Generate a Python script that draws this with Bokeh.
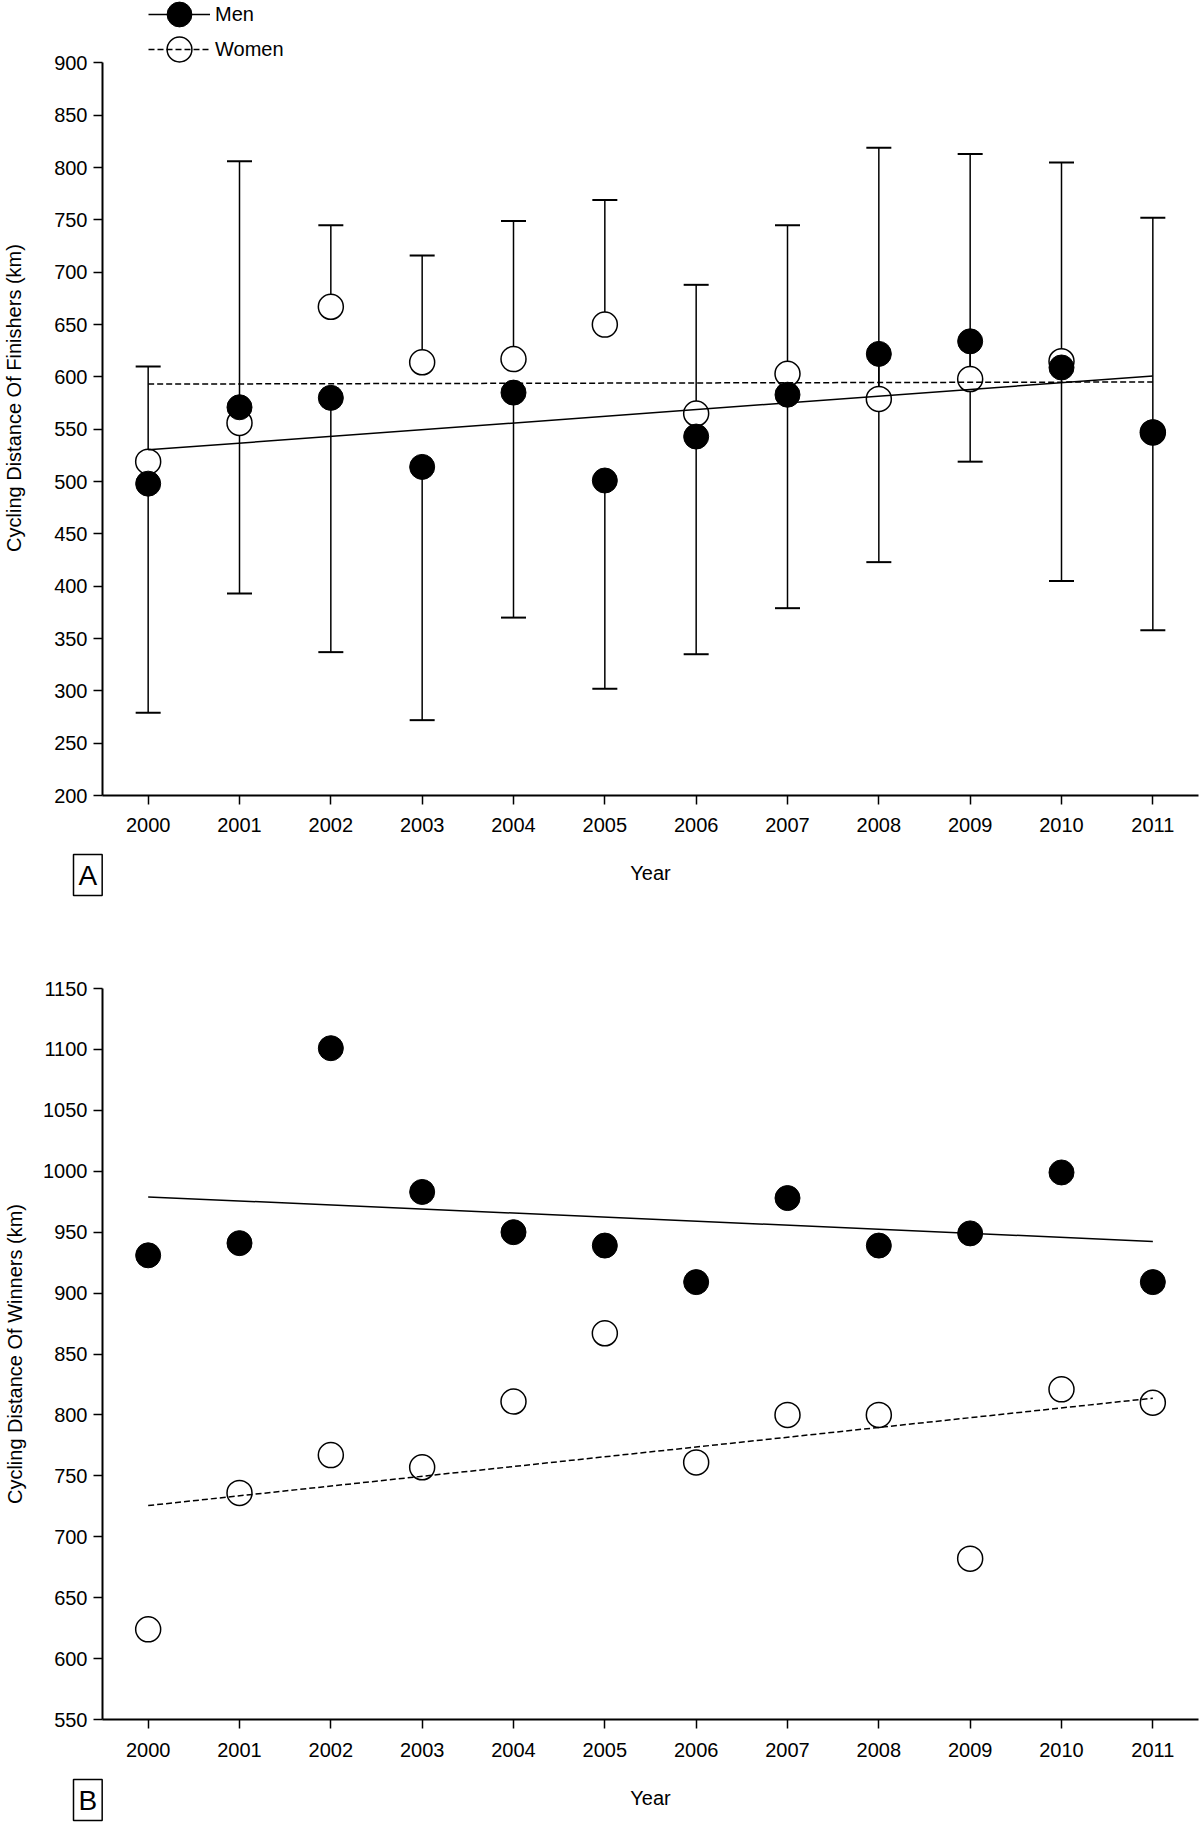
import numpy as np
from bokeh.plotting import figure
from bokeh.models import Range1d, FixedTicker, Legend, LegendItem, Title, ColumnDataSource
from bokeh.layouts import column
from bokeh.embed import file_html
from bokeh.resources import INLINE

# ---------------- data ----------------
years = [2000, 2001, 2002, 2003, 2004, 2005, 2006, 2007, 2008, 2009, 2010, 2011]
year_labels = ["2000", "2001", "2002", "2003", "2004", "2005", "2006", "2007", "2008", "2009", "2010", "2011"]

finishers_men = [498, 571, 580, 514, 585, 501, 543, 583, 622, 634, 609, 547]
finishers_men_sd = [219, 178, 243, 242, 215, 199, 208, 204, 199, 115, 204, 189]
finishers_women = [519, 556, 667, 614, 617, 650, 565, 603, 579, 598, 615, 547]
finishers_women_sd = [91, 250, 78, 102, 132, 119, 123, 142, 240, 215, 190, 205]

winners_men = [931, 941, 1101, 983, 950, 939, 909, 978, 939, 949, 999, 909]
winners_women = [624, 736, 767, 757, 811, 867, 761, 800, 800, 682, 821, 810]

y_ticks_finishers = [200, 250, 300, 350, 400, 450, 500, 550, 600, 650, 700, 750, 800, 850, 900]
y_ticks_winners = [550, 600, 650, 700, 750, 800, 850, 900, 950, 1000, 1050, 1100, 1150]

FONT = "Liberation Sans"
BLACK = "#000000"


def base_figure(height, top, bottom, y_lo, y_hi, y_bounds, y_ticks, ylabel,
                xlab_standoff, ylab_standoff):
    p = figure(width=1200, height=height,
               x_range=Range1d(1999.5, 2011.5), y_range=Range1d(y_lo, y_hi),
               output_backend="svg", toolbar_location=None,
               min_border_left=102, min_border_right=2,
               min_border_top=top, min_border_bottom=bottom)
    p.grid.visible = False
    p.outline_line_color = None
    p.background_fill_color = "white"
    p.border_fill_color = "white"
    p.xaxis.ticker = FixedTicker(ticks=years)
    p.xaxis.major_label_overrides = {y: s for y, s in zip(years, year_labels)}
    p.yaxis.ticker = FixedTicker(ticks=y_ticks)
    p.yaxis.bounds = y_bounds
    p.xaxis.axis_label = "Year"
    p.yaxis.axis_label = ylabel
    for ax in (p.xaxis[0], p.yaxis[0]):
        ax.axis_line_width = 2
        ax.axis_line_color = BLACK
        ax.major_tick_line_width = 1.5
        ax.major_tick_line_color = BLACK
        ax.major_tick_out = 9
        ax.major_tick_in = 0
        ax.minor_tick_line_color = None
        ax.major_label_text_font = FONT
        ax.major_label_text_font_size = "20px"
        ax.major_label_text_color = BLACK
        ax.axis_label_text_font = FONT
        ax.axis_label_text_font_size = "20px"
        ax.axis_label_text_font_style = "normal"
        ax.axis_label_text_color = BLACK
    p.xaxis.major_label_standoff = xlab_standoff
    p.xaxis.axis_label_standoff = 27
    p.yaxis.major_label_standoff = 6
    p.yaxis.axis_label_standoff = ylab_standoff
    return p


def fit_line(y):
    k, b = np.polyfit(years, y, 1)
    xs = [years[0], years[-1]]
    return xs, [k * x + b for x in xs]


def panel_letter(p, text, standoff):
    p.add_layout(Title(text=text, align="left", vertical_align="top", offset=-29,
                       standoff=standoff, text_font=FONT, text_font_size="28px",
                       text_font_style="normal", text_color=BLACK,
                       border_line_color=BLACK, border_line_width=1.5,
                       background_fill_color="white", padding=5), "below")


# ---------------- panel A ----------------
# frame spans to the canvas top so the legend sits inside it; the y axis is drawn only 200..900
pA = base_figure(905, 0, 110, 200, 959.7, (200, 900), y_ticks_finishers,
                 "Cycling Distance Of Finishers (km)", 13, 26)

srcA = ColumnDataSource(dict(
    year=years,
    men=finishers_men,
    men_low=[m - s for m, s in zip(finishers_men, finishers_men_sd)],
    women=finishers_women,
    women_high=[w + s for w, s in zip(finishers_women, finishers_women_sd)],
))
pA.segment(x0="year", y0="men_low", x1="year", y1="men", source=srcA, line_color=BLACK, line_width=1.5)
pA.segment(x0="year", y0="women", x1="year", y1="women_high", source=srcA, line_color=BLACK, line_width=1.5)
pA.scatter(x="year", y="men_low", source=srcA, marker="dash", size=25, line_color=BLACK, line_width=2)
pA.scatter(x="year", y="women_high", source=srcA, marker="dash", size=25, line_color=BLACK, line_width=2)
womenA = pA.scatter(x="year", y="women", source=srcA, size=25, fill_color="white", line_color=BLACK, line_width=1.5)
menA = pA.scatter(x="year", y="men", source=srcA, size=25, fill_color=BLACK, line_color=BLACK)
xs, ys = fit_line(finishers_men)
menA_line = pA.line(xs, ys, line_color=BLACK, line_width=1.5)
xs, ys = fit_line(finishers_women)
womenA_line = pA.line(xs, ys, line_color=BLACK, line_width=1.5, line_dash="6 3")

for label, rends, bottom in (("Men", [menA, menA_line], 750), ("Women", [womenA, womenA_line], 715)):
    leg = Legend(items=[LegendItem(label=label, renderers=rends)], location=(46, bottom),
                 glyph_width=62, glyph_height=62, label_standoff=5, padding=0, margin=0,
                 border_line_color=None, background_fill_alpha=0,
                 label_text_font=FONT, label_text_font_size="20px", label_text_color=BLACK,
                 label_text_baseline="middle")
    pA.add_layout(leg)

panel_letter(pA, "A", -64)

# ---------------- panel B ----------------
pB = base_figure(918, 83, 104, 550, 1150, (550, 1150), y_ticks_winners,
                 "Cycling Distance Of Winners (km)", 14, 14)
srcB = ColumnDataSource(dict(year=years, men=winners_men, women=winners_women))
pB.scatter(x="year", y="women", source=srcB, size=25, fill_color="white", line_color=BLACK, line_width=1.5)
pB.scatter(x="year", y="men", source=srcB, size=25, fill_color=BLACK, line_color=BLACK)
xs, ys = fit_line(winners_men)
pB.line(xs, ys, line_color=BLACK, line_width=1.5)
xs, ys = fit_line(winners_women)
pB.line(xs, ys, line_color=BLACK, line_width=1.5, line_dash="6 3")

panel_letter(pB, "B", -64)

layout = column(pA, pB, spacing=0)
open("out.html", "w").write(file_html(layout, INLINE))
